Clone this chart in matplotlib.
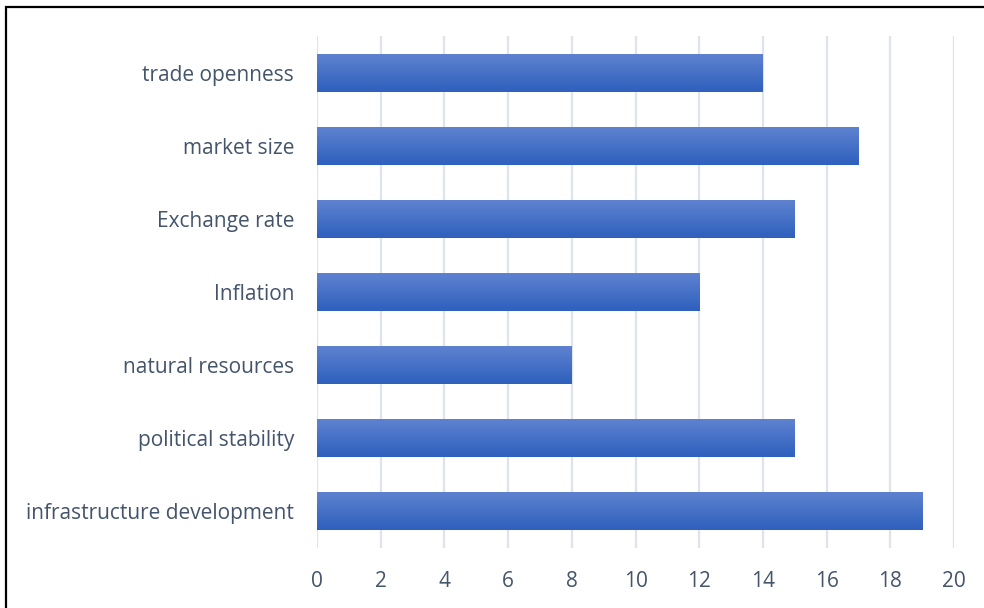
import numpy as np
import matplotlib
matplotlib.use('Agg')
import matplotlib.pyplot as plt
from matplotlib.patches import Rectangle
from matplotlib.colors import LinearSegmentedColormap

categories = ['infrastructure development', 'political stability', 'natural resources',
              'Inflation', 'Exchange rate', 'market size', 'trade openness']
values = [19, 15, 8, 12, 15, 17, 14]
xticks = [0, 2, 4, 6, 8, 10, 12, 14, 16, 18, 20]

plt.rcParams['font.family'] = ['Open Sans', 'DejaVu Sans']
txtClr = '#44546A'

fig = plt.figure(figsize=(9.84, 6.08), dpi=100)
ax = fig.add_axes([0.3222, 0.0995, 0.6473, 0.8405])

ypos = np.arange(len(categories))
bars = ax.barh(ypos, values, height=0.52, color='none', edgecolor='none', zorder=2)

# vertical gradient inside each bar, light on top
grad = LinearSegmentedColormap.from_list('g', ['#2E60BD', '#5E82D0'])
gimg = np.linspace(0, 1, 100).reshape(-1, 1)
for b in bars:
    x0, y0 = b.get_x(), b.get_y()
    w, h = b.get_width(), b.get_height()
    im = ax.imshow(gimg, cmap=grad, aspect='auto', origin='lower',
                   extent=(x0, x0 + w, y0, y0 + h), zorder=2)
    im.set_clip_path(b)

ax.set_xlim(0, 20)
ax.set_ylim(-0.5, len(categories) - 0.5)
ax.set_xticks(xticks)
ax.set_yticks(ypos)
ax.set_yticklabels(categories)
ax.xaxis.grid(True, color='#DFE3EB', linewidth=1.6, zorder=0)
ax.set_axisbelow(True)
for s in ax.spines.values():
    s.set_visible(False)
ax.tick_params(axis='both', length=0, labelsize=15, colors=txtClr)
ax.tick_params(axis='y', pad=16.5)
ax.tick_params(axis='x', pad=17)

fig.patches.append(Rectangle((6 / 984, -0.1), 1.2, 1 - 7 / 608 + 0.1,
                             transform=fig.transFigure, fill=False,
                             edgecolor='black', linewidth=1.6, zorder=10))

fig.savefig('out.png')
